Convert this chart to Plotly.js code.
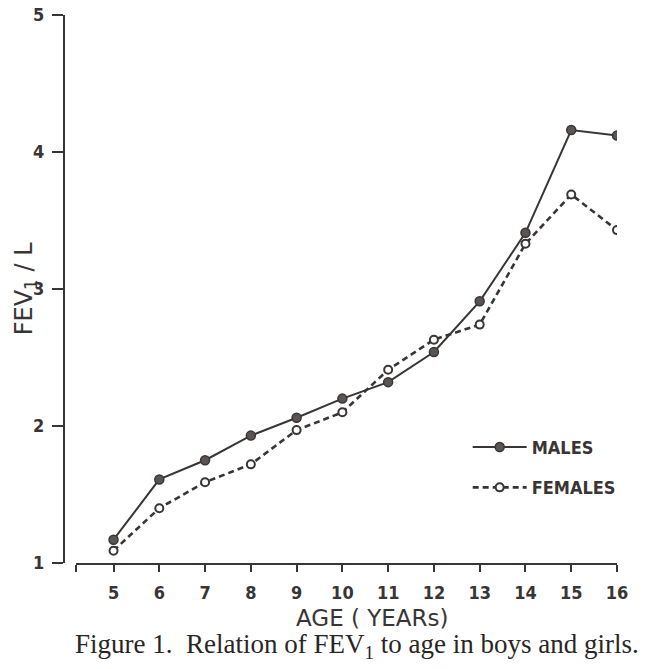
<!DOCTYPE html>
<html>
<head>
<meta charset="utf-8">
<script src="https://cdn.plot.ly/plotly-3.0.1.min.js"></script>
<style>
  html, body { margin: 0; padding: 0; background: #fff; }
  #chart { width: 650px; height: 669px; }
</style>
</head>
<body>
<div id="chart"></div>
<script>
// ── Dados ─────────────────────────────────────────────────
const ages      = [5, 6, 7, 8, 9, 10, 11, 12, 13, 14, 15, 16];
const fevMales  = [1.17, 1.61, 1.75, 1.93, 2.06, 2.20, 2.32, 2.54, 2.91, 3.41, 4.16, 4.12];
const fevFemales= [1.09, 1.40, 1.59, 1.72, 1.97, 2.10, 2.41, 2.63, 2.74, 3.33, 3.69, 3.43];

const xTickVals  = [4.18, 5, 6, 7, 8, 9, 10, 11, 12, 13, 14, 15, 16];
const xTickText  = [' ', '5', '6', '7', '8', '9', '10', '11', '12', '13', '14', '15', '16'];
const yTickVals  = [1, 2, 3, 4, 5];

// ── Estilo ────────────────────────────────────────────────
const INK = '#3a3535';
const tickFont = { family: 'DejaVu Sans Condensed, DejaVu Sans, sans-serif', size: 18, color: INK, weight: 'bold' };

const traceMales = {
  x: ages, y: fevMales,
  name: 'MALES',
  legendgroup: 'm',
  type: 'scatter',
  mode: 'lines+markers',
  line:   { color: INK, width: 2 },
  marker: { size: 9, color: '#5a5454', line: { color: INK, width: 1.5 } },
};

const traceFemales = {
  x: ages, y: fevFemales,
  name: 'FEMALES',
  legendgroup: 'f',
  type: 'scatter',
  mode: 'lines+markers',
  line:   { color: INK, width: 2.6, dash: '6px,4px' },
  marker: { size: 8, color: '#ffffff', line: { color: INK, width: 2 } },
};

const layout = {
  width: 650, height: 669,
  paper_bgcolor: '#ffffff',
  plot_bgcolor:  '#ffffff',
  margin: { l: 64, r: 33, t: 15, b: 106 },
  showlegend: true,
  legend: {
    x: 0.73, y: 0.245, xanchor: 'left', yanchor: 'top',
    bgcolor: 'rgba(0,0,0,0)',
    font: { family: 'DejaVu Sans Condensed, DejaVu Sans, sans-serif', size: 18, color: INK, weight: 'bold' },
    itemwidth: 54,
    tracegroupgap: 14,
    traceorder: 'grouped',
  },
  xaxis: {
    domain: [12 / 553, 1],
    range: [4.18, 16],
    tickvals: xTickVals, ticktext: xTickText,
    showline: true, linecolor: INK, linewidth: 2,
    ticks: 'outside', ticklen: 7, tickwidth: 2, tickcolor: INK,
    ticklabelstandoff: 5,
    tickfont: tickFont,
    showgrid: false, zeroline: false,
  },
  yaxis: {
    anchor: 'free', position: 0,
    range: [1, 5],
    tickvals: yTickVals,
    showline: true, linecolor: INK, linewidth: 2,
    ticks: 'outside', ticklen: 11, tickwidth: 2, tickcolor: INK,
    ticklabelstandoff: 4,
    tickfont: tickFont,
    showgrid: false, zeroline: false,
  },
  annotations: [
    {
      text: 'FEV<sub>1</sub> / L',
      textangle: -90,
      xref: 'paper', yref: 'paper', x: -0.07, y: 0.5, xanchor: 'center', yanchor: 'middle',
      showarrow: false,
      font: { family: 'DejaVu Sans, sans-serif', size: 24, color: INK },
    },
    {
      text: 'AGE ( YEARs)',
      xref: 'paper', yref: 'paper', x: 0.558, y: -0.1, xanchor: 'center', yanchor: 'middle',
      showarrow: false,
      font: { family: 'DejaVu Sans, sans-serif', size: 23, color: INK },
    },
    {
      text: 'Figure 1.  Relation of FEV<sub>1</sub> to age in boys and girls.',
      xref: 'paper', yref: 'paper', x: 0.53, y: -0.152, xanchor: 'center', yanchor: 'middle',
      showarrow: false,
      font: { family: 'Liberation Serif, serif', size: 27, color: '#2a2525' },
    },
  ],
};

Plotly.newPlot('chart', [traceMales, traceFemales], layout, { displayModeBar: false, staticPlot: true });
</script>
</body>
</html>
